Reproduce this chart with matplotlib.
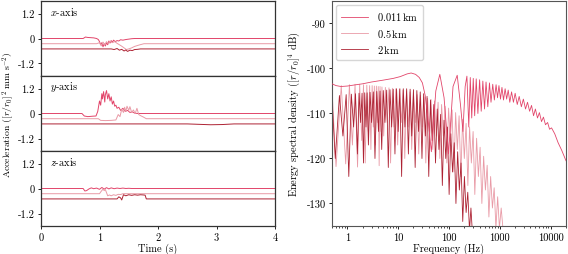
import matplotlib
matplotlib.use("Agg")
import matplotlib.pyplot as plt

plt.rcParams["font.family"] = "serif"
plt.rcParams["font.serif"] = ["cmr10", "DejaVu Serif"]
plt.rcParams["mathtext.fontset"] = "cm"
plt.rcParams["axes.unicode_minus"] = False
plt.rcParams["font.size"] = 7.5

# --- felles ---
avstander = ["0.011$\\,$km", "0.5$\\,$km", "2$\\,$km"]
farger = ["#e2456a", "#e99aa6", "#ad2233"]
forskyvning = [0.0, -0.25, -0.5]  # vertikal forskyvning av sporene
akser = ["$x$-axis", "$y$-axis", "$z$-axis"]

# --- akselerasjon, x-akse ---
tx = [
    [0, 0.72, 0.76, 0.8, 0.9, 0.95, 0.98, 1.0, 1.02, 1.04, 1.06, 1.08, 1.1, 1.12, 1.14,
     1.16, 1.18, 1.2, 1.22, 1.24, 1.27, 1.3, 1.33, 1.36, 1.4, 1.45, 1.5, 1.55, 1.6, 4.0],
    [0, 0.95, 1.0, 1.03, 1.06, 1.09, 1.12, 1.15, 1.18, 1.22, 1.26, 1.3, 1.34, 1.38, 1.42,
     1.46, 1.5, 1.55, 1.6, 1.68, 1.76, 4.0],
    [0, 1.2, 1.25, 1.3, 1.34, 1.38, 1.42, 1.45, 1.48, 1.52, 1.56, 1.6, 1.65, 1.7, 4.0],
]
ax_ = [
    [0, 0, 0.07, 0.05, 0.03, 0.0, -0.05, -0.15, -0.3, -0.2, -0.4, -0.25, -0.36, -0.2, -0.3,
     -0.12, -0.22, -0.1, -0.18, -0.08, -0.15, -0.1, -0.12, -0.06, -0.08, -0.05, -0.03, -0.01, 0, 0],
    [0, 0, 0.05, -0.1, 0.08, -0.05, 0.1, 0.0, 0.12, 0.05, 0.1, 0.02, -0.05, -0.12, -0.2,
     -0.28, -0.25, -0.2, -0.13, -0.06, 0, 0],
    [0, 0, -0.03, 0.02, -0.06, -0.02, -0.1, -0.05, -0.12, -0.06, -0.08, -0.03, -0.02, 0, 0],
]

# --- akselerasjon, y-akse ---
ty = [
    [0, 0.7, 0.74, 0.8, 0.88, 0.94, 0.97, 1.0, 1.02, 1.04, 1.05, 1.07, 1.09, 1.1, 1.12, 1.14,
     1.16, 1.18, 1.2, 1.22, 1.24, 1.26, 1.28, 1.3, 1.33, 1.36, 1.4, 1.44, 1.48, 1.52, 1.56,
     1.6, 1.65, 4.0],
    [0, 0.98, 1.02, 1.1, 1.2, 1.28, 1.32, 1.35, 1.38, 1.41, 1.43, 1.45, 1.47, 1.5, 1.52,
     1.55, 1.58, 1.61, 1.64, 1.67, 1.7, 1.75, 1.8, 4.0],
    [0, 2.5, 2.7, 2.9, 3.1, 3.3, 4.0],
]
ay = [
    [0, 0, -0.12, -0.15, -0.13, -0.12, 0.1, 0.6, 0.4, 0.95, 0.7, 1.05, 0.55, 0.9, 1.1, 0.7,
     0.95, 0.6, 0.8, 0.45, 0.6, 0.35, 0.4, 0.25, 0.3, 0.15, 0.25, 0.1, 0.15, 0.05, 0.08,
     0.02, 0, 0],
    [0, 0, -0.08, -0.09, -0.08, -0.06, 0.2, 0.1, 0.45, 0.3, 0.55, 0.35, 0.6, 0.4, 0.58,
     0.3, 0.42, 0.25, 0.5, 0.2, 0.15, 0.08, 0, 0],
    [0, 0, -0.02, -0.04, -0.03, 0, 0],
]

# --- akselerasjon, z-akse ---
tz = [
    [0, 0.72, 0.75, 0.78, 0.82, 0.86, 0.9, 0.95, 1.0, 1.04, 1.08, 1.12, 1.16, 1.2, 1.25,
     1.3, 1.35, 1.4, 1.45, 1.5, 1.55, 4.0],
    [0, 1.0, 1.03, 1.06, 1.08, 1.1, 1.12, 1.14, 1.17, 1.2, 1.24, 1.28, 1.32, 1.36, 1.4, 4.0],
    [0, 1.3, 1.33, 1.36, 1.38, 1.41, 1.45, 1.5, 1.55, 1.6, 1.65, 1.7, 1.75, 1.78, 1.8, 4.0],
]
az = [
    [0, 0, -0.12, -0.1, -0.02, 0.03, -0.01, 0.02, -0.04, 0.05, -0.03, 0.04, -0.02, 0.03,
     -0.01, 0.02, 0.0, 0.02, 0.0, 0.01, 0, 0],
    [0, 0, 0.12, 0.22, 0.15, 0.2, 0.05, -0.1, -0.06, -0.1, -0.05, -0.08, -0.03, -0.04, 0, 0],
    [0, 0, 0.1, 0.05, -0.05, 0.2, 0.15, 0.2, 0.17, 0.2, 0.18, 0.2, 0.19, 0.18, 0, 0],
]

# --- energispekter 0.011 km ---
fA = [0.5, 0.6, 0.75, 1.0, 1.5, 2, 3, 5, 8, 11, 15, 18, 22, 26, 30, 34, 38, 45, 55, 66,
      80, 98, 120, 145, 168, 188, 208, 225, 245, 262, 280, 300, 320, 343, 370, 400, 430,
      463, 500, 535, 580, 625, 670, 725, 780, 843, 900, 960, 1030, 1100, 1180, 1270, 1360,
      1460, 1570, 1700, 1850, 2000, 2200, 2400, 2650, 2900, 3200, 3500, 3850, 4200, 4600,
      5000, 5500, 6000, 6600, 7200, 7900, 8700, 9500, 10400, 12000, 14000, 16500, 20000]
dbA = [-103.4, -103.8, -104.0, -103.9, -103.6, -103.4, -103.0, -102.6, -102.2, -101.8,
       -101.2, -101.0, -101.3, -102.0, -103.2, -106.0, -110.5, -118.5, -105.0, -101.3,
       -106.5, -119.0, -104.0, -101.5, -108.0, -114.0, -104.0, -101.7, -113.0, -102.0,
       -111.0, -102.2, -110.5, -102.3, -110.0, -102.5, -109.5, -102.8, -109.0, -103.0,
       -108.5, -103.2, -107.5, -103.5, -107.0, -103.6, -106.5, -103.8, -106.8, -104.2,
       -107.0, -104.5, -106.8, -104.8, -107.5, -105.2, -107.5, -105.5, -108.0, -106.2,
       -108.5, -106.8, -109.0, -107.5, -109.5, -108.2, -110.5, -109.0, -111.0, -109.8,
       -111.8, -110.8, -112.5, -112.0, -113.5, -113.2, -114.5, -116.5, -118.2, -120.5]

# --- energispekter 0.5 km ---
fB = [0.5, 0.6, 0.76, 0.93, 1.1, 1.26, 1.42, 1.59, 1.75, 1.92, 2.08, 2.25, 2.42, 2.58,
      2.75, 2.91, 3.08, 3.24, 3.4, 3.57, 3.73, 3.9, 4.06, 4.23, 4.4, 4.6, 4.8, 5.2, 5.6,
      6.1, 6.6, 7.1, 7.7, 8.3, 9.0, 9.8, 10.6, 11.5, 12.5, 13.5, 14.6, 15.8, 17.1, 18.5,
      20, 21.7, 23.5, 25.4, 27.5, 29.8, 32.3, 35, 37.9, 41, 44.4, 48, 52, 56.3, 61, 66,
      71.5, 77.4, 83.8, 90.7, 98.2, 106, 115, 125, 135, 146, 158, 171, 185, 200, 217, 235,
      254, 275, 298, 322, 349, 378, 409, 443, 480, 520, 563, 609, 659, 714, 773, 837, 906,
      981, 1062, 1150, 1200]
dbB = [-104.5, -121.8, -103.8, -121.2, -103.6, -117.0, -103.5, -121.9, -103.5, -116.0,
       -103.6, -121.0, -103.7, -114.0, -103.8, -118.0, -103.8, -113.0, -103.9, -117.0,
       -103.9, -112.0, -104.0, -121.6, -104.0, -114.0, -104.1, -115.0, -104.2, -112.0,
       -104.3, -121.0, -104.4, -113.0, -104.5, -117.0, -104.6, -112.0, -104.8, -120.0,
       -105.0, -113.0, -105.2, -118.0, -105.4, -112.0, -105.8, -119.0, -106.0, -113.0,
       -106.3, -121.0, -106.6, -114.0, -106.9, -118.0, -107.2, -115.0, -107.5, -120.0,
       -108.0, -115.0, -108.4, -121.0, -108.8, -116.0, -109.2, -123.0, -109.8, -118.0,
       -110.5, -124.0, -111.3, -120.0, -112.2, -126.0, -113.0, -121.0, -114.0, -128.0,
       -115.5, -124.0, -117.5, -130.0, -119.5, -127.0, -121.5, -133.0, -124.0, -131.0,
       -126.5, -135.5, -128.5, -135.5, -131.0, -135.5, -136.0]

# --- energispekter 2 km ---
fC = [0.5, 0.58, 0.7, 0.82, 0.95, 1.07, 1.2, 1.33, 1.45, 1.58, 1.7, 1.83, 1.95, 2.08, 2.2,
      2.33, 2.45, 2.6, 2.8, 3.0, 3.25, 3.5, 3.8, 4.1, 4.4, 4.75, 5.1, 5.5, 5.95, 6.4, 6.9,
      7.45, 8.0, 8.65, 9.3, 10.0, 10.8, 11.7, 12.6, 13.6, 14.7, 15.9, 17.2, 18.5, 20, 21.6,
      23.3, 25.2, 27.2, 29.4, 31.7, 34.3, 37, 40, 43.2, 46.6, 50.3, 54.3, 58.7, 63.4, 68.5,
      74, 79.9, 86.3, 93.2, 100.6, 108.7, 117.4, 126.8, 136.9, 147.9, 159.7, 172.5, 186.3,
      201, 217, 234, 253, 270, 290]
dbC = [-106.8, -120.0, -106.0, -115.0, -105.8, -124.0, -105.7, -113.0, -105.6, -119.0,
       -105.5, -112.0, -105.5, -121.0, -105.4, -113.0, -105.4, -117.0, -105.3, -112.0,
       -105.2, -120.0, -105.1, -114.0, -105.0, -118.0, -104.9, -112.0, -104.8, -122.0,
       -104.7, -113.0, -104.6, -119.0, -104.5, -114.0, -104.5, -124.0, -104.5, -113.0,
       -104.5, -119.0, -104.6, -115.0, -104.7, -122.0, -104.9, -114.0, -105.2, -120.0,
       -105.6, -115.0, -106.2, -124.0, -107.0, -116.0, -108.0, -121.0, -109.0, -118.0,
       -110.2, -126.0, -111.5, -120.0, -113.0, -128.0, -114.5, -123.0, -116.5, -130.0,
       -118.5, -127.0, -121.0, -134.0, -124.0, -132.0, -127.5, -136.0, -131.0, -137.0]

fig = plt.figure(figsize=(5.68, 2.55), dpi=100)

# venstre side: tre paneler
panelh = 75 / 255
bunn = 1 - 227 / 255
tider = [tx, ty, tz]
verdier = [ax_, ay, az]
venstre = []
for k in range(3):
    a = fig.add_axes([41 / 568, bunn + (2 - k) * panelh, 234 / 568, panelh])
    for i in range(3):
        yy = [v + forskyvning[i] for v in verdier[k][i]]
        a.plot(tider[k][i], yy, color=farger[i], lw=0.7)
    a.set_xlim(0, 4)
    a.set_ylim(-1.8, 1.8)
    a.set_yticks([1.2, 0, -1.2])
    a.set_yticklabels(["1.2", "0", "-1.2"])
    a.set_xticks([0, 1, 2, 3, 4])
    if k < 2:
        a.tick_params(axis="x", labelbottom=False, length=0)
    a.text(0.04, 0.87, akser[k], transform=a.transAxes, ha="left", va="center")
    a.tick_params(direction="out", length=2.5, width=0.6, pad=2)
    for s in a.spines.values():
        s.set_color("#333333")
        s.set_linewidth(0.9)
    venstre.append(a)

venstre[2].set_xticklabels(["0", "1", "2", "3", "4"])
venstre[2].set_xlabel("Time (s)", labelpad=1)
venstre[1].set_ylabel("Acceleration ($[r/r_0]^2\\;\\mathrm{mm}\\;\\mathrm{s}^{-2}$)", fontsize=7)
venstre[1].yaxis.set_label_coords(-0.105, 0.5)

# hoyre side: energispekter
b = fig.add_axes([332 / 568, bunn, 234 / 568, 225 / 255])
b.semilogx(fA, dbA, color=farger[0], lw=0.6, label=avstander[0], zorder=3)
b.semilogx(fB, dbB, color=farger[1], lw=0.6, label=avstander[1], zorder=2)
b.semilogx(fC, dbC, color=farger[2], lw=0.6, label=avstander[2], zorder=2.5)
b.set_xlim(0.5, 20000)
b.set_ylim(-135, -85)
b.set_xticks([1, 10, 100, 1000, 10000])
b.set_xticklabels(["1", "10", "100", "1000", "10000"])
b.set_yticks([-90, -100, -110, -120, -130])
b.set_yticklabels(["-90", "-100", "-110", "-120", "-130"])
b.tick_params(direction="out", length=2.5, width=0.6, pad=2)
b.tick_params(which="minor", direction="out", length=1.5, width=0.5)
b.set_xlabel("Frequency (Hz)", labelpad=1)
b.set_ylabel("Energy spectral density ($[r/r_0]^4$ dB)", labelpad=3)
for s in b.spines.values():
    s.set_color("#555555")
    s.set_linewidth(0.8)
b.legend(loc="upper left", fontsize=7.5, frameon=True, handlelength=2.6,
         borderpad=0.5, labelspacing=0.4, fancybox=True, edgecolor="#cccccc",
         bbox_to_anchor=(0.0, 1.0), borderaxespad=0.4)

fig.savefig("out.png", dpi=100)
